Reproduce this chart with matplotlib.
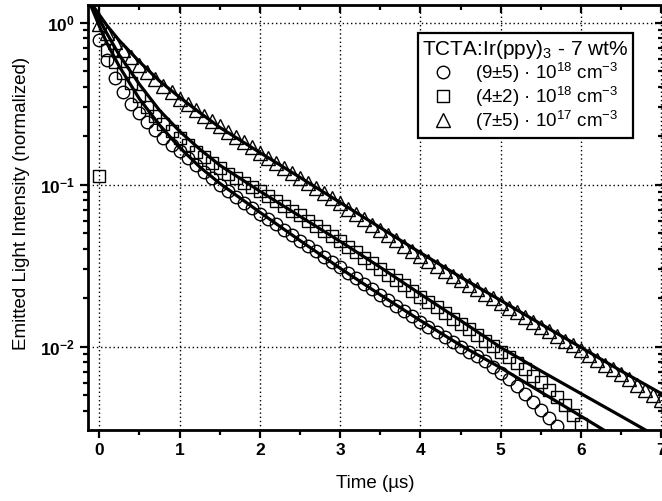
import matplotlib
matplotlib.use('Agg')
import matplotlib.pyplot as plt
from matplotlib.ticker import LogLocator, MultipleLocator, NullFormatter, FixedLocator, FixedFormatter

plt.rcParams['font.family'] = ['Liberation Sans', 'DejaVu Sans']
plt.rcParams['mathtext.default'] = 'regular'

# sampling times of the measured transients (us)
time_us = [0.0, 0.1, 0.2, 0.3, 0.4, 0.5, 0.6, 0.7, 0.8, 0.9,
           1.0, 1.1, 1.2, 1.3, 1.4, 1.5, 1.6, 1.7, 1.8, 1.9,
           2.0, 2.1, 2.2, 2.3, 2.4, 2.5, 2.6, 2.7, 2.8, 2.9,
           3.0, 3.1, 3.2, 3.3, 3.4, 3.5, 3.6, 3.7, 3.8, 3.9,
           4.0, 4.1, 4.2, 4.3, 4.4, 4.5, 4.6, 4.7, 4.8, 4.9,
           5.0, 5.1, 5.2, 5.3, 5.4, 5.5, 5.6, 5.7, 5.8, 5.9,
           6.0, 6.1, 6.2, 6.3, 6.4, 6.5, 6.6, 6.7, 6.8, 6.9, 7.0]

# (9+-5) 1e18 cm^-3, circles
circ = [0.782, 0.589, 0.457, 0.372, 0.316, 0.279, 0.245, 0.219, 0.195, 0.176,
        0.162, 0.146, 0.132, 0.120, 0.110, 0.100, 0.0912, 0.0841, 0.0776, 0.0716,
        0.0661, 0.0612, 0.0568, 0.0526, 0.0488, 0.0452, 0.0419, 0.0388, 0.0360, 0.0333,
        0.0309, 0.0286, 0.0264, 0.0244, 0.0226, 0.0209, 0.0194, 0.0179, 0.0166, 0.0154,
        0.0143, 0.0133, 0.0123, 0.0115, 0.0107, 0.0100, 0.00933, 0.00871, 0.00813, 0.00750,
        0.00692, 0.00631, 0.00569, 0.00513, 0.00457, 0.00407, 0.00363, 0.00324]

# (4+-2) 1e18 cm^-3, squares
sqr = [0.113, 0.676, 0.569, 0.490, 0.422, 0.351, 0.302, 0.266, 0.237, 0.214,
       0.193, 0.176, 0.160, 0.148, 0.136, 0.126, 0.117, 0.110, 0.102, 0.0966,
       0.0912, 0.0851, 0.0794, 0.0741, 0.0692, 0.0646, 0.0600, 0.0557, 0.0518, 0.0481,
       0.0447, 0.0413, 0.0382, 0.0353, 0.0327, 0.0302, 0.0279, 0.0258, 0.0239, 0.0221,
       0.0204, 0.0189, 0.0175, 0.0161, 0.0149, 0.0138, 0.0128, 0.0118, 0.0109, 0.0101,
       0.00933, 0.00861, 0.00794, 0.00724, 0.00661, 0.00603, 0.00543, 0.00490, 0.00437, 0.00380,
       0.00331]

# (7+-5) 1e17 cm^-3, triangles
tri = [0.977, 0.861, 0.759, 0.676, 0.610, 0.550, 0.495, 0.452, 0.407, 0.372,
       0.339, 0.313, 0.288, 0.266, 0.247, 0.229, 0.213, 0.198, 0.184, 0.171,
       0.158, 0.147, 0.137, 0.127, 0.118, 0.110, 0.102, 0.0951, 0.0885, 0.0824,
       0.0767, 0.0711, 0.0659, 0.0611, 0.0566, 0.0525, 0.0488, 0.0453, 0.0421, 0.0391,
       0.0363, 0.0339, 0.0316, 0.0295, 0.0275, 0.0257, 0.0241, 0.0226, 0.0212, 0.0199,
       0.0186, 0.0174, 0.0163, 0.0152, 0.0143, 0.0133, 0.0125, 0.0117, 0.0109, 0.0102,
       0.00955, 0.00891, 0.00832, 0.00776, 0.00724, 0.00676, 0.00628, 0.00583, 0.00542, 0.00504,
       0.00468]

# fitted curves
fit_t = [-0.1, 0.0, 0.1, 0.25, 0.5, 0.75, 1.0, 1.25, 1.5, 2.0, 2.5, 3.0,
         3.5, 4.0, 4.5, 5.0, 5.5, 6.0, 6.5, 7.0]
fit_circ = [1.259, 0.955, 0.741, 0.537, 0.339, 0.234, 0.170, 0.129, 0.102, 0.0676,
            0.0452, 0.0305, 0.0209, 0.0145, 0.0102, 0.00741, 0.00525, 0.00372, 0.00263]
fit_sqr = [1.288, 1.047, 0.851, 0.631, 0.417, 0.288, 0.214, 0.166, 0.132, 0.0912,
           0.0638, 0.0447, 0.0309, 0.0211, 0.0145, 0.00989, 0.00708, 0.00513, 0.00372, 0.00269]
fit_tri = [1.318, 1.122, 0.955, 0.776, 0.575, 0.437, 0.347, 0.279, 0.226, 0.158,
           0.111, 0.0776, 0.0543, 0.0380, 0.0269, 0.0193, 0.0138, 0.00989, 0.00708, 0.00513]

labels = ['(9\u00b15) \u00b7 10$^{18}$ cm$^{-3}$',
          '(4\u00b12) \u00b7 10$^{18}$ cm$^{-3}$',
          '(7\u00b15) \u00b7 10$^{17}$ cm$^{-3}$']

fig = plt.figure(figsize=(6.62, 5.01), dpi=100)
ax = fig.add_axes([0.1329, 0.1417, 0.8686, 0.8483])

mk = dict(linestyle='none', mfc='none', mec='black', mew=1.0)
ax.plot(time_us[:len(circ)], circ, marker='o', ms=9, label=labels[0], **mk)
ax.plot(time_us[:len(sqr)], sqr, marker='s', ms=8, label=labels[1], **mk)
ax.plot(time_us[:len(tri)], tri, marker='^', ms=10, label=labels[2], **mk)

ax.plot(fit_t[:len(fit_circ)], fit_circ, color='black', lw=2.3, zorder=5)
ax.plot(fit_t[:len(fit_sqr)], fit_sqr, color='black', lw=2.3, zorder=5)
ax.plot(fit_t[:len(fit_tri)], fit_tri, color='black', lw=2.3, zorder=5)

ax.set_yscale('log')
ax.set_xlim(-0.14, 7.02)
ax.set_ylim(0.00306, 1.286)

ax.xaxis.set_major_locator(MultipleLocator(1))
ax.xaxis.set_minor_locator(MultipleLocator(0.5))
ax.yaxis.set_major_locator(FixedLocator([0.01, 0.1, 1]))
ax.yaxis.set_major_formatter(FixedFormatter(['10$^{-2}$', '10$^{-1}$', '10$^{0}$']))
ax.yaxis.set_minor_locator(LogLocator(base=10, subs=range(2, 10)))
ax.yaxis.set_minor_formatter(NullFormatter())

ax.grid(True, which='major', color='black', linestyle=(0, (1, 2)), linewidth=1.0)
ax.tick_params(which='major', direction='out', length=6, width=1.6, labelsize=12.5)
ax.tick_params(which='minor', direction='out', length=3.5, width=1.6)
for lab in ax.get_xticklabels() + ax.get_yticklabels():
    lab.set_fontweight('bold')
for sp in ax.spines.values():
    sp.set_linewidth(2.0)

# inward ticks on top and right
top = ax.secondary_xaxis('top')
top.xaxis.set_major_locator(MultipleLocator(1))
top.xaxis.set_minor_locator(MultipleLocator(0.5))
top.tick_params(which='major', direction='in', length=6, width=1.6, labeltop=False)
top.tick_params(which='minor', direction='in', length=3.5, width=1.6)
right = ax.secondary_yaxis('right')
right.yaxis.set_major_locator(FixedLocator([0.01, 0.1, 1]))
right.yaxis.set_minor_locator(LogLocator(base=10, subs=range(2, 10)))
right.tick_params(which='major', direction='in', length=6, width=1.6, labelright=False)
right.tick_params(which='minor', direction='in', length=3.5, width=1.6, labelright=False)

ax.set_xlabel('Time (\u00b5s)', fontsize=13.5, labelpad=12)
ax.set_ylabel('Emitted Light Intensity (normalized)', fontsize=13.5)
ax.yaxis.set_label_coords(-0.100, 0.534)

leg = ax.legend(title='TCTA:Ir(ppy)$_3$ - 7 wt%', loc='upper right',
                bbox_to_anchor=(0.948, 0.934), borderaxespad=0, fontsize=13.5,
                title_fontsize=15, fancybox=False, edgecolor='black',
                framealpha=1, handlelength=1.2, handletextpad=1.1,
                labelspacing=0.0, borderpad=0.25)
leg.get_frame().set_linewidth(1.6)

fig.savefig('out.png', dpi=100)
